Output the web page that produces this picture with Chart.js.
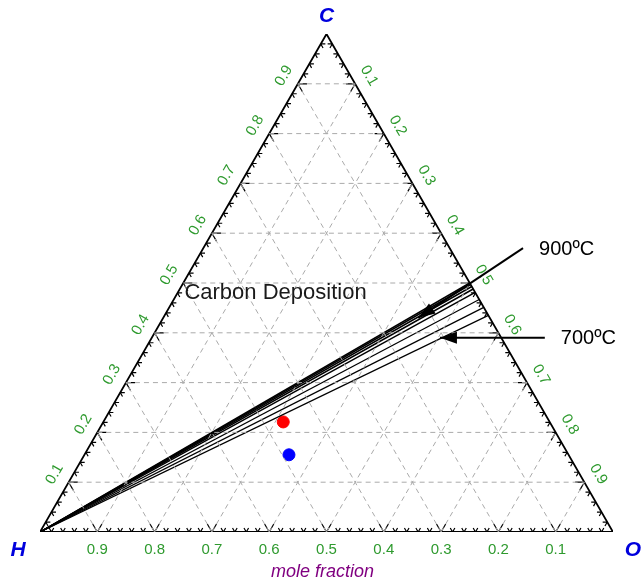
<!DOCTYPE html>
<html>
<head>
<meta charset="utf-8">
<script src="https://cdn.jsdelivr.net/npm/chart.js@4"></script>
<style>
  body { margin: 0; background: #fff; }
  #wrap { width: 642px; height: 581px; }
</style>
</head>
<body>
<div id="wrap"><canvas id="ternary" width="642" height="581"></canvas></div>
<script>
// ternary composition values are [O, C] mole fractions, H = 1 - O - C
const gridValues = [0.1, 0.2, 0.3, 0.4, 0.5, 0.6, 0.7, 0.8, 0.9];
const tickLabels = ['0.1', '0.2', '0.3', '0.4', '0.5', '0.6', '0.7', '0.8', '0.9'];
const vertexLabels = ['H', 'O', 'C'];

// carbon deposition boundaries: from pure H to these O fractions on the C-O edge
const boundaryEndO = [0.500, 0.503, 0.507, 0.512, 0.519, 0.533, 0.549, 0.565];

// gas compositions [O, C]
const redPoint = [0.314, 0.221];
const bluePoint = [0.357, 0.155];

// annotations, in chart coordinates [x, y]
const arrow900 = { from: [0.843, 0.570], to: [0.660, 0.430], label: '900ºC' };
const arrow700 = { from: [0.881, 0.390], to: [0.698, 0.390], label: '700ºC' };
const regionLabel = { at: [0.252, 0.480], text: 'Carbon Deposition' };

function xy(o, c) { return { x: o + c / 2, y: c }; }

// grid lines (dashed)
const gridData = [];
gridValues.forEach(k => {
    gridData.push(xy(0, k), xy(1 - k, k), { x: null, y: null });   // constant C
    gridData.push(xy(k, 0), xy(k, 1 - k), { x: null, y: null });   // constant O
    gridData.push(xy(1 - k, 0), xy(0, 1 - k), { x: null, y: null }); // constant H
});

// edge ticks every 0.02
const tickData = [];
function addTick(o, c, dirs, len) {
    dirs.forEach(d => {
        tickData.push(xy(o, c), xy(o + d[0] * len, c + d[1] * len), { x: null, y: null });
    });
}
for (let i = 1; i < 50; i++) {
    const t = i / 50;
    const len = (i % 5 === 0) ? 0.016 : 0.008;
    addTick(t, 0, [[0, 1], [-1, 1]], len);          // bottom edge
    addTick(0, t, [[1, 0], [1, -1]], len);          // H-C edge
    addTick(t, 1 - t, [[-1, 0], [0, -1]], len);     // C-O edge
}

const edgeData = [xy(0, 0), xy(1, 0), xy(0, 1), xy(0, 0)];

const datasets = [
    { data: gridData, borderColor: '#aaaaaa', borderWidth: 1, borderDash: [5, 4] },
    { data: tickData, borderColor: '#000', borderWidth: 1.2 },
    { data: edgeData, borderColor: '#000', borderWidth: 1.8 }
];
boundaryEndO.forEach((o, i) => {
    datasets.push({ data: [xy(0, 0), xy(o, 1 - o)], borderColor: '#000', borderWidth: i < 5 ? 1.5 : 1.2 });
});
datasets.forEach(d => { d.showLine = true; d.pointRadius = 0; d.spanGaps = false; });
datasets.push({ data: [xy(redPoint[0], redPoint[1])], backgroundColor: '#ff0000', borderColor: '#ff0000', pointRadius: 6, showLine: false });
datasets.push({ data: [xy(bluePoint[0], bluePoint[1])], backgroundColor: '#0000ff', borderColor: '#0000ff', pointRadius: 6, showLine: false });

const labelPlugin = {
    id: 'ternaryLabels',
    afterDatasetsDraw(chart) {
        const ctx = chart.ctx, xs = chart.scales.x, ys = chart.scales.y;
        const px = (o, c) => [xs.getPixelForValue(o + c / 2), ys.getPixelForValue(c)];
        const pc = p => [xs.getPixelForValue(p[0]), ys.getPixelForValue(p[1])];
        ctx.save();
        ctx.textAlign = 'center';
        ctx.textBaseline = 'middle';
        ctx.fillStyle = '#2e9a2e';
        ctx.font = '15px Arial, "Liberation Sans"';
        gridValues.forEach((v, i) => {
            // bottom: H fraction
            let p = px(1 - v, 0);
            ctx.fillText(tickLabels[i], p[0], p[1] + 18);
            // left edge: C fraction
            p = px(0, v);
            ctx.save();
            ctx.translate(p[0] - 14, p[1] - 8);
            ctx.rotate(-Math.PI / 3);
            ctx.fillText(tickLabels[i], 0, 0);
            ctx.restore();
            // right edge: O fraction
            p = px(v, 1 - v);
            ctx.save();
            ctx.translate(p[0] + 14, p[1] - 8);
            ctx.rotate(Math.PI / 3);
            ctx.fillText(tickLabels[i], 0, 0);
            ctx.restore();
        });

        // vertices
        ctx.fillStyle = '#0000dd';
        ctx.font = 'italic bold 21px Arial, "Liberation Sans"';
        let p = px(0, 0); ctx.fillText(vertexLabels[0], p[0] - 22, p[1] + 18);
        p = px(1, 0); ctx.fillText(vertexLabels[1], p[0] + 20, p[1] + 18);
        p = px(0, 1); ctx.fillText(vertexLabels[2], p[0], p[1] - 18);

        ctx.fillStyle = '#800080';
        ctx.font = 'italic 18px Arial, "Liberation Sans"';
        p = px(0.5, 0);
        ctx.fillText('mole fraction', p[0] - 4, p[1] + 40);

        // arrows
        ctx.fillStyle = '#000';
        ctx.strokeStyle = '#000';
        ctx.lineWidth = 2;
        [arrow900, arrow700].forEach(a => {
            const f = pc(a.from), t = pc(a.to);
            const ang = Math.atan2(t[1] - f[1], t[0] - f[0]);
            ctx.beginPath();
            ctx.moveTo(f[0], f[1]);
            ctx.lineTo(t[0], t[1]);
            ctx.stroke();
            ctx.beginPath();
            ctx.moveTo(t[0], t[1]);
            ctx.lineTo(t[0] - 17 * Math.cos(ang) + 6 * Math.sin(ang), t[1] - 17 * Math.sin(ang) - 6 * Math.cos(ang));
            ctx.lineTo(t[0] - 17 * Math.cos(ang) - 6 * Math.sin(ang), t[1] - 17 * Math.sin(ang) + 6 * Math.cos(ang));
            ctx.closePath();
            ctx.fill();
            ctx.textAlign = 'left';
            ctx.font = '20px Arial, "Liberation Sans"';
            ctx.fillText(a.label, f[0] + 16, f[1] + 1);
        });

        ctx.fillStyle = '#1a1a1a';
        ctx.textAlign = 'left';
        ctx.font = '22px Arial, "Liberation Sans"';
        p = pc(regionLabel.at);
        ctx.fillText(regionLabel.text, p[0], p[1]);
        ctx.restore();
    }
};

new Chart(document.getElementById('ternary').getContext('2d'), {
    type: 'scatter',
    data: { datasets: datasets },
    options: {
        responsive: false,
        devicePixelRatio: 1,
        animation: false,
        layout: { padding: { left: 40, right: 29, top: 34, bottom: 49 } },
        scales: {
            x: { type: 'linear', min: 0, max: 1, display: false },
            y: { type: 'linear', min: 0, max: 1, display: false }
        },
        plugins: { legend: { display: false }, tooltip: { enabled: false } }
    },
    plugins: [labelPlugin]
});
</script>
</body>
</html>
